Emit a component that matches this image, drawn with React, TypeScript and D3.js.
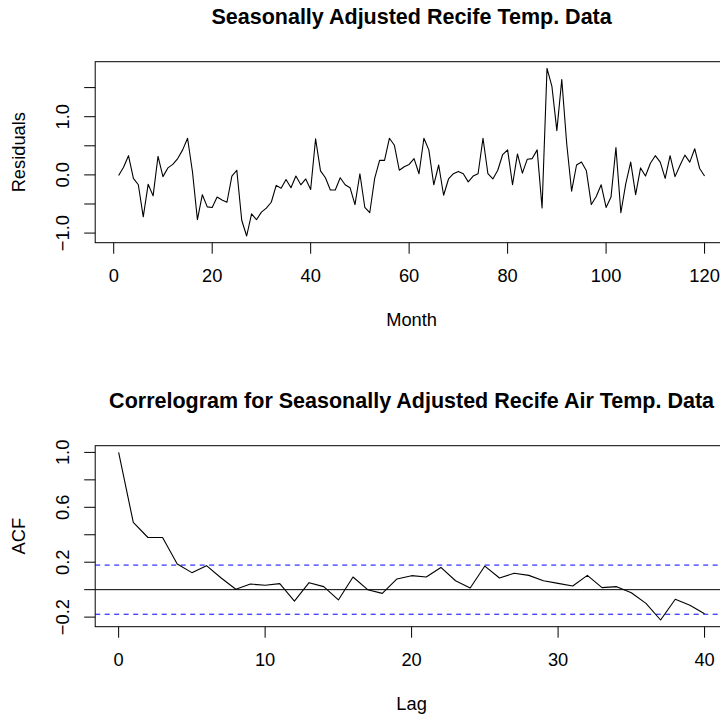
import React from "react";
import * as d3 from "d3";

const residuals = [
  -0.01, 0.13, 0.33, -0.06, -0.17, -0.72, -0.16, -0.36, 0.32, -0.03,
  0.12, 0.18, 0.28, 0.43, 0.63, 0.05, -0.77, -0.34, -0.55, -0.56,
  -0.38, -0.43, -0.47, -0.02, 0.08, -0.78, -1.05, -0.67, -0.77, -0.64,
  -0.57, -0.47, -0.18, -0.23, -0.08, -0.22, -0.02, -0.17, -0.07, -0.25,
  0.62, 0.07, -0.05, -0.26, -0.26, -0.05, -0.17, -0.22, -0.51, 0.02,
  -0.56, -0.65, -0.06, 0.25, 0.25, 0.63, 0.51, 0.08, 0.14, 0.18,
  0.28, 0.02, 0.63, 0.43, -0.17, 0.17, -0.35, -0.07, 0.02, 0.06,
  0.02, -0.12, -0.02, 0.02, 0.63, 0.02, -0.07, 0.08, 0.35, 0.43,
  -0.17, 0.36, 0.03, 0.27, 0.28, 0.43, -0.57, 1.83, 1.52, 0.76,
  1.64, 0.54, -0.28, 0.17, 0.22, 0.07, -0.51, -0.37, -0.17, -0.56,
  -0.38, 0.47, -0.65, -0.15, 0.22, -0.34, 0.12, -0.02, 0.2, 0.33,
  0.22, -0.06, 0.33, -0.03, 0.16, 0.34, 0.22, 0.45, 0.11, -0.02,
];

const acfValues = [
  1.0, 0.49, 0.38, 0.38, 0.187, 0.124, 0.175, 0.085, 0.003, 0.041,
  0.032, 0.044, -0.083, 0.051, 0.022, -0.075, 0.092, 0.0, -0.027, 0.078,
  0.102, 0.092, 0.162, 0.065, 0.012, 0.172, 0.085, 0.119, 0.104, 0.065,
  0.046, 0.027, 0.104, 0.015, 0.022, -0.022, -0.1, -0.221, -0.07, -0.114,
  -0.175,
];

const ciBound = 0.179;

const topXTicks = [0, 20, 40, 60, 80, 100, 120];
const topYTicks = [-1, -0.5, 0, 0.5, 1, 1.5];
const topYLabelTicks = [-1, 0, 1];
const botXTicks = [0, 10, 20, 30, 40];
const botYTicks = [-0.2, 0, 0.2, 0.4, 0.6, 0.8, 1.0];
const botYLabelTicks = [-0.2, 0.2, 0.6, 1.0];

const title1 = "Seasonally Adjusted Recife Temp. Data";
const title2 = "Correlogram for Seasonally Adjusted Recife Air Temp. Data";
const xLabel1 = "Month";
const yLabel1 = "Residuals";
const xLabel2 = "Lag";
const yLabel2 = "ACF";

const FONT = "'Liberation Sans', Arial, Helvetica, sans-serif";
const FS = 18.3;
const TFS = 21.5;
const LINE = 22;
const TICK = 11;

const left = 95.2;
const right = 728;

function pad(ext: [number, number]): [number, number] {
  const r = ext[1] - ext[0];
  return [ext[0] - 0.04 * r, ext[1] + 0.04 * r];
}

const fmt = (v: number) => d3.format(".1f")(v).replace("-", "\u2212");

type PanelProps = {
  xs: number[];
  ys: number[];
  top: number;
  bottom: number;
  xTicks: number[];
  yTicks: number[];
  yLabelTicks: number[];
  title: string;
  xLabel: string;
  yLabel: string;
  titleBaseline: number;
  acf?: boolean;
  id: string;
};

function Panel(p: PanelProps) {
  const x = d3.scaleLinear().domain(pad(d3.extent(p.xs) as [number, number])).range([left, right]);
  const y = d3.scaleLinear().domain(pad(d3.extent(p.ys) as [number, number])).range([p.bottom, p.top]);
  const line = d3
    .line<number>()
    .x((_, i) => x(p.xs[i]))
    .y((d) => y(d));
  const cx = (left + right) / 2;
  const cy = (p.top + p.bottom) / 2;
  return (
    <g>
      <defs>
        <clipPath id={p.id}>
          <rect x={left} y={p.top} width={right - left} height={p.bottom - p.top} />
        </clipPath>
      </defs>
      <g clipPath={`url(#${p.id})`}>
        {p.acf && (
          <>
            <line x1={left} x2={right} y1={y(0)} y2={y(0)} stroke="#000" strokeWidth={1} />
            <line x1={left} x2={right} y1={y(ciBound)} y2={y(ciBound)} stroke="#0000ff" strokeWidth={1} strokeDasharray="5,4.5" />
            <line x1={left} x2={right} y1={y(-ciBound)} y2={y(-ciBound)} stroke="#0000ff" strokeWidth={1} strokeDasharray="5,4.5" />
          </>
        )}
        <path d={line(p.ys) || ""} fill="none" stroke="#000" strokeWidth={1.1} strokeLinejoin="round" />
      </g>
      <rect x={left} y={p.top} width={right - left} height={p.bottom - p.top} fill="none" stroke="#000" strokeWidth={1} />
      {p.xTicks.map((t) => (
        <g key={"xt" + t}>
          <line x1={x(t)} x2={x(t)} y1={p.bottom} y2={p.bottom + TICK} stroke="#000" strokeWidth={1} />
          <text x={x(t)} y={p.bottom + 1.8 * LINE} textAnchor="middle" fontSize={FS} fontFamily={FONT}>
            {t}
          </text>
        </g>
      ))}
      {p.yTicks.map((t) => (
        <line key={"yt" + t} x1={left - TICK} x2={left} y1={y(t)} y2={y(t)} stroke="#000" strokeWidth={1} />
      ))}
      {p.yLabelTicks.map((t) => (
        <text
          key={"yl" + t}
          transform={`translate(${left - 1.2 * LINE},${y(t)}) rotate(-90)`}
          textAnchor="middle"
          fontSize={FS}
          fontFamily={FONT}
        >
          {fmt(t)}
        </text>
      ))}
      <text x={cx} y={p.titleBaseline} textAnchor="middle" fontSize={TFS} fontWeight="bold" fontFamily={FONT}>
        {p.title}
      </text>
      <text x={cx} y={p.bottom + 3.8 * LINE} textAnchor="middle" fontSize={FS} fontFamily={FONT}>
        {p.xLabel}
      </text>
      <text
        transform={`translate(${left - 3.2 * LINE},${cy}) rotate(-90)`}
        textAnchor="middle"
        fontSize={FS}
        fontFamily={FONT}
      >
        {p.yLabel}
      </text>
    </g>
  );
}

export default function App() {
  const months = residuals.map((_, i) => i + 1);
  const lags = acfValues.map((_, i) => i);
  return (
    <svg
      width={720}
      height={718}
      style={{ position: "absolute", left: 0, top: 0, background: "#fff" }}
    >
      <rect x={0} y={0} width={720} height={718} fill="#fff" />
      <Panel
        id="c1"
        xs={months}
        ys={residuals}
        top={61.7}
        bottom={242.7}
        xTicks={topXTicks}
        yTicks={topYTicks}
        yLabelTicks={topYLabelTicks}
        title={title1}
        xLabel={xLabel1}
        yLabel={yLabel1}
        titleBaseline={24}
      />
      <Panel
        id="c2"
        xs={lags}
        ys={acfValues}
        top={445.7}
        bottom={626.7}
        xTicks={botXTicks}
        yTicks={botYTicks}
        yLabelTicks={botYLabelTicks}
        title={title2}
        xLabel={xLabel2}
        yLabel={yLabel2}
        titleBaseline={408}
        acf
      />
    </svg>
  );
}
